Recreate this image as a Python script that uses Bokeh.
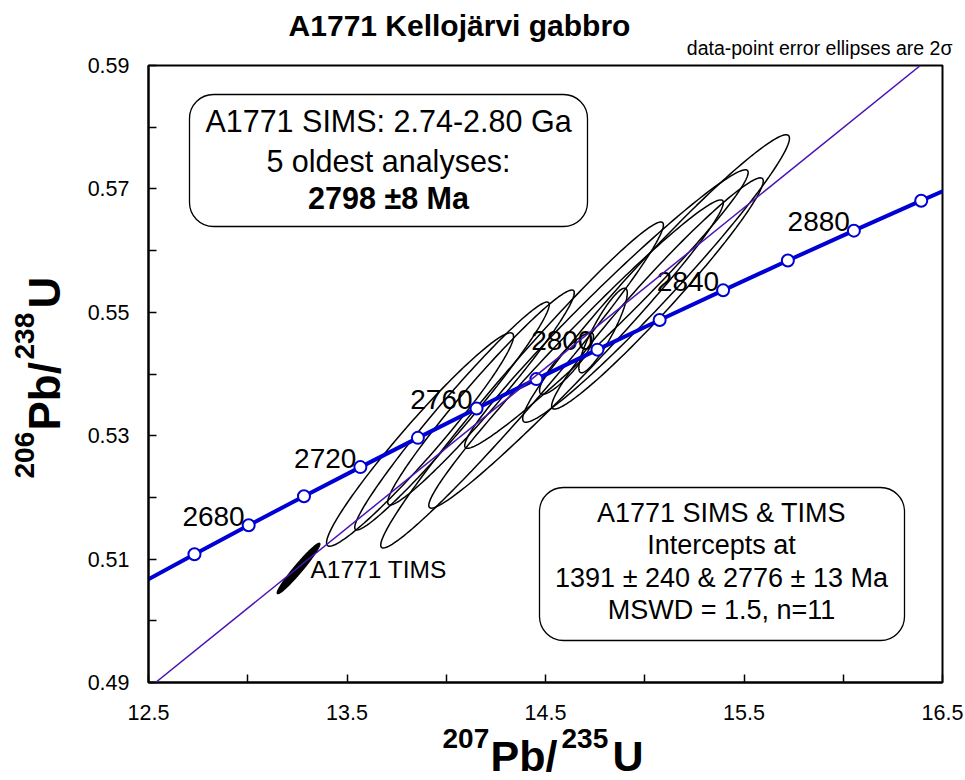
import numpy as np
from bokeh.plotting import figure
from bokeh.models import BoxAnnotation, Slope, FixedTicker, Range1d, ColumnDataSource
from bokeh.core.properties import value
from bokeh.embed import file_html
from bokeh.resources import INLINE

# ---------------- data ----------------
# concordia age markers (Ma) and their isotope ratios
conc_age = [2640, 2660, 2680, 2700, 2720, 2740, 2760, 2780, 2800, 2820, 2840, 2860, 2880, 2900, 2920]
conc_x = [12.4637, 12.7316, 13.0047, 13.2833, 13.5674, 13.8572, 14.1527, 14.4541, 14.7616, 15.0751,
          15.3948, 15.7210, 16.0536, 16.3928, 16.7388]
conc_y = [0.50610, 0.51079, 0.51548, 0.52019, 0.52491, 0.52965, 0.53440, 0.53917, 0.54395, 0.54875,
          0.55356, 0.55839, 0.56323, 0.56809, 0.57296]
label_ages = [2680, 2720, 2760, 2800, 2840, 2880]

# discordia intercepts (1391 Ma and 2776 Ma)
lower_int = (2.9351, 0.24083)
upper_int = (14.3935, 0.53822)

# SIMS analyses: 207Pb/235U, 2s, 206Pb/238U, 2s, error correlation
sims_x = [13.868, 14.029, 14.175, 14.382, 14.654, 14.807, 15.057, 15.064, 14.606, 14.790]
sims_xerr = [0.471, 0.490, 0.470, 0.712, 0.742, 0.714, 0.672, 0.533, 0.136, 0.122]
sims_y = [0.52938, 0.53319, 0.53619, 0.53822, 0.54324, 0.55053, 0.55548, 0.55305, 0.54170, 0.54705]
sims_yerr = [0.01729, 0.01847, 0.01742, 0.02642, 0.02498, 0.02257, 0.02330, 0.01874, 0.00498, 0.00685]
sims_rho = [0.967, 0.977, 0.974, 0.982, 0.982, 0.980, 0.975, 0.973, 0.879, 0.885]

# TIMS analysis
tims_x = [13.256]
tims_xerr = [0.107]
tims_y = [0.50848]
tims_yerr = [0.00407]
tims_rho = [0.970]

x_major = [12.5, 13.5, 14.5, 15.5, 16.5]
x_minor = [13.0, 14.0, 15.0, 16.0]
y_major = [0.49, 0.51, 0.53, 0.55, 0.57, 0.59]
y_minor = [0.50, 0.52, 0.54, 0.56, 0.58]

FONT = "Liberation Sans"

# ---------------- figure ----------------
W, H = 965, 780
L, R, T, B = 148, 23, 65, 98
p = figure(width=W, height=H, output_backend="svg", toolbar_location=None,
           x_range=Range1d(12.5, 16.5), y_range=Range1d(0.49, 0.59),
           min_border_left=L, min_border_right=R, min_border_top=T, min_border_bottom=B)
p.grid.visible = False
p.outline_line_color = "black"
p.outline_line_width = 2
p.outline_line_alpha = 1
p.background_fill_color = "white"
p.border_fill_color = "white"

for ax, maj, mino, stand in ((p.xaxis[0], x_major, x_minor, 22), (p.yaxis[0], y_major, y_minor, 19)):
    ax.ticker = FixedTicker(ticks=maj, minor_ticks=mino)
    ax.major_tick_in = 8
    ax.major_tick_out = 0
    ax.minor_tick_in = 8
    ax.minor_tick_out = 0
    ax.major_tick_line_width = 1.5
    ax.minor_tick_line_width = 1.5
    ax.axis_line_width = 2
    ax.major_label_text_font = FONT
    ax.major_label_text_font_size = "21.5px"
    ax.major_label_text_color = "black"
    ax.major_label_standoff = stand
p.yaxis[0].major_label_orientation = "horizontal"

fw = W - L - R
fh = H - T - B
def dx(px):
    return 12.5 + (px - L) * 4.0 / fw
def dy(py):
    return 0.49 + (H - B - py) * 0.10 / fh

def free_text(px, py, txt, size, style="normal", align="left", angle=0.0):
    # (px, py): screen position of the text's vertical middle
    p.text(x=[dx(px)], y=[dy(py)], text=[txt], text_font=value(FONT), text_font_size=size,
           text_font_style=style, text_align=align, text_baseline="middle",
           text_color="black", angle=angle, angle_units="deg", level="overlay")

# discordia
slope = (upper_int[1] - lower_int[1]) / (upper_int[0] - lower_int[0])
icpt = lower_int[1] - slope * lower_int[0]
p.add_layout(Slope(gradient=slope, y_intercept=icpt, line_color="#4a14b4", line_width=1.5))

# error ellipses
def ellipse(cx, sx, cy, sy, rho, n=180):
    t = np.linspace(0, 2 * np.pi, n)
    xs = cx + sx * np.cos(t)
    ys = cy + sy * (rho * np.cos(t) + np.sqrt(1 - rho ** 2) * np.sin(t))
    return list(xs), list(ys)

exs, eys = [], []
for i in range(len(sims_x)):
    a, b = ellipse(sims_x[i], sims_xerr[i], sims_y[i], sims_yerr[i], sims_rho[i])
    exs.append(a); eys.append(b)
p.patches(exs, eys, fill_color=None, line_color="black", line_width=1.5)

txs, tys = [], []
for i in range(len(tims_x)):
    a, b = ellipse(tims_x[i], tims_xerr[i], tims_y[i], tims_yerr[i], tims_rho[i])
    txs.append(a); tys.append(b)
p.patches(txs, tys, fill_color="black", line_color="black", line_width=1.5)

# concordia
p.line(conc_x, conc_y, line_color="#0000d4", line_width=4)
p.scatter(conc_x, conc_y, size=12, marker="circle", fill_color="white", line_color="#0000d4", line_width=2)

lab_x = [conc_x[conc_age.index(a)] for a in label_ages]
lab_y = [conc_y[conc_age.index(a)] for a in label_ages]
src = ColumnDataSource(dict(x=lab_x, y=lab_y, t=[str(a) for a in label_ages]))
p.text("x", "y", text="t", source=src, text_align="right", text_baseline="middle",
       x_offset=-4, y_offset=-9, text_font_size="28px", text_font=value(FONT), text_color="black")

# TIMS label
free_text(310, 569, "A1771 TIMS", "24.5px")

# boxes
for l_, r_, t_, b_ in ((189, 587, 94, 226), (539, 904, 487, 640)):
    p.add_layout(BoxAnnotation(left=dx(l_), right=dx(r_), top=dy(t_), bottom=dy(b_),
                               fill_color="white", fill_alpha=1, line_color="black", line_alpha=1,
                               line_width=1.3, border_radius=24))

box1 = [("A1771 SIMS: 2.74-2.80 Ga", "normal", 120), ("5 oldest analyses:", "normal", 160),
        ("2798 \u00b18 Ma", "bold", 197)]
for txt, st, cy in box1:
    free_text(388, cy, txt, "30.5px", style=st, align="center")

box2 = [("A1771 SIMS & TIMS", 512), ("Intercepts at", 544),
        ("1391 \u00b1 240 & 2776 \u00b1 13 Ma", 577), ("MSWD = 1.5, n=11", 609)]
for txt, cy in box2:
    free_text(721, cy, txt, "27px", align="center")

# title and note
free_text(459, 25, "A1771 Kellojärvi gabbro", "30px", style="bold", align="center")
free_text(952, 47, "data-point error ellipses are 2\u03c3", "19.5px", align="right")

# axis titles built from pieces (superscripts)
xparts = [("207", 442, 738, "28px"), ("Pb/", 490, 755, "43px"), ("235", 561, 738, "28px"), ("U", 612, 755, "43px")]
for txt, px, cy, fs in xparts:
    free_text(px, cy, txt, fs, style="bold")
yparts = [("206", 478, 24, "28px"), ("Pb/", 430, 44, "44px"), ("238", 359, 24, "28px"), ("U", 308, 44, "44px")]
for txt, py, cx, fs in yparts:
    free_text(cx, py, txt, fs, style="bold", angle=90)

open("out.html", "w").write(file_html(p, INLINE))
